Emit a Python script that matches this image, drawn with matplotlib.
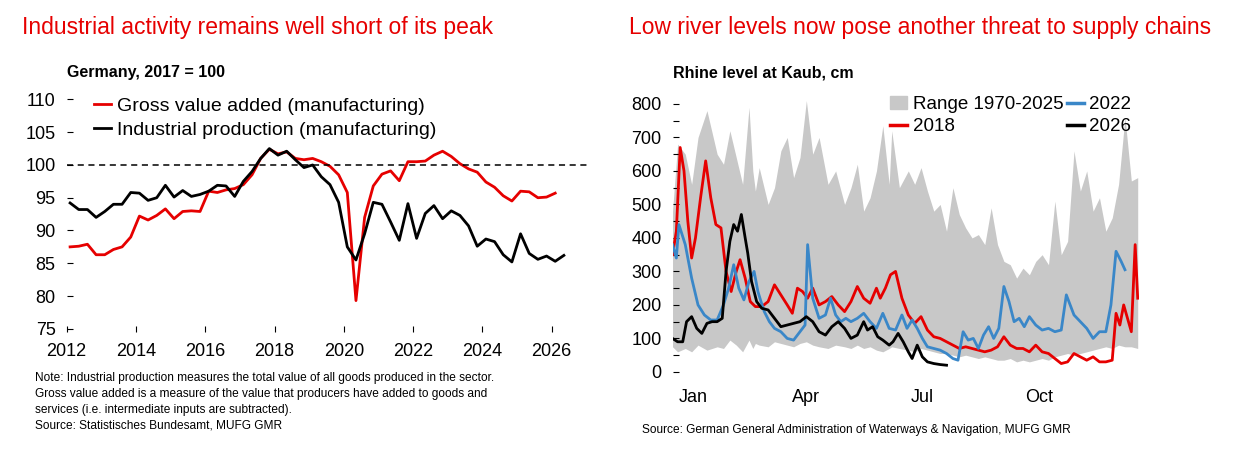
import matplotlib.pyplot as plt
from matplotlib.patches import Patch
from matplotlib.lines import Line2D

# ---- left chart: quarterly, Germany 2017 = 100 ----
gva = [87.5, 87.6, 87.9, 86.3, 86.3, 87.1, 87.5, 89.0, 92.2, 91.6, 92.3, 93.3,
       91.8, 92.9, 93.0, 92.9, 96.0, 95.8, 96.2, 96.4, 97.0, 98.5, 101.0, 102.4,
       101.7, 102.0, 101.0, 100.8, 101.0, 100.5, 99.8, 98.5, 95.8, 79.3, 92.0, 96.8,
       98.6, 99.1, 97.6, 100.5, 100.5, 100.6, 101.5, 102.1, 101.3, 100.2, 99.4, 98.9,
       97.4, 96.6, 95.3, 94.5, 96.0, 95.9, 95.0, 95.1, 95.7]
ip = [94.2, 93.2, 93.2, 92.0, 92.9, 94.0, 94.0, 95.8, 95.7, 94.6, 95.0, 96.9,
      95.1, 96.1, 95.2, 95.5, 96.0, 96.9, 96.8, 95.2, 97.5, 99.0, 101.0, 102.5,
      101.5, 102.1, 100.8, 99.6, 100.0, 98.2, 97.0, 94.3, 87.5, 85.5, 89.5, 94.3,
      94.0, 91.3, 88.5, 94.1, 88.8, 92.6, 93.8, 91.8, 93.0, 92.3, 90.7, 87.6,
      88.7, 88.3, 86.3, 85.2, 89.5, 86.5, 85.6, 86.1, 85.3, 86.2]
START_YEAR = 2012

# ---- right chart: Rhine level at Kaub, cm (day of year, value) ----
range_days = [0, 4, 10, 15, 20, 27, 35, 40, 45, 50, 55, 60, 63, 65, 68, 75, 80, 85, 90, 95,
              100, 105, 110, 115, 122, 128, 135, 140, 145, 150, 155, 160, 165, 170, 172, 178,
              185, 190, 195, 200, 205, 210, 215, 220, 225, 230, 235, 240, 245, 250, 255, 260,
              265, 270, 275, 280, 285, 290, 295, 300, 305, 310, 315, 320, 325, 330, 335, 340,
              345, 350, 355, 360, 365]
range_hi = [480, 680, 650, 560, 700, 780, 650, 620, 720, 640, 560, 790, 600, 540, 610, 500,
            550, 660, 700, 580, 640, 810, 650, 700, 560, 600, 500, 550, 620, 480, 520, 600,
            735, 560, 720, 550, 600, 560, 610, 540, 480, 500, 420, 550, 470, 430, 400, 410,
            380, 490, 380, 330, 320, 280, 310, 290, 330, 350, 320, 510, 350, 390, 660, 540,
            600, 480, 520, 420, 460, 560, 760, 570, 580]
range_lo = [75, 60, 70, 60, 80, 65, 75, 70, 95, 80, 60, 95, 70, 85, 80, 75, 90, 85, 80, 75,
            85, 90, 80, 75, 70, 80, 75, 70, 80, 70, 75, 65, 60, 70, 75, 70, 65, 60, 70, 65,
            60, 55, 55, 50, 45, 50, 45, 40, 45, 40, 35, 35, 40, 30, 35, 30, 35, 40, 35, 45,
            50, 55, 50, 55, 60, 65, 70, 75, 70, 80, 75, 75, 70]

d2018 = [0, 3, 6, 9, 12, 15, 18, 22, 26, 30, 34, 38, 42, 46, 50, 53, 57, 61, 65, 70, 75, 80,
         85, 90, 94, 98, 102, 106, 110, 115, 120, 125, 130, 135, 140, 145, 150, 155, 160, 163,
         167, 171, 175, 180, 185, 190, 195, 200, 205, 210, 215, 220, 225, 230, 235, 240, 245,
         250, 255, 260, 265, 270, 275, 280, 285, 290, 295, 300, 305, 310, 315, 320, 325, 330,
         335, 340, 345, 348, 351, 354, 357, 360, 363, 365]
v2018 = [350, 420, 670, 600, 450, 340, 400, 520, 630, 520, 440, 430, 300, 240, 300, 335, 280,
         210, 195, 195, 210, 260, 230, 200, 175, 250, 240, 220, 250, 200, 210, 225, 200, 180,
         210, 255, 220, 205, 250, 220, 250, 290, 300, 220, 170, 145, 165, 125, 105, 100, 90,
         80, 70, 75, 70, 65, 60, 65, 75, 105, 80, 70, 70, 60, 80, 60, 55, 40, 25, 30, 55, 45,
         35, 45, 30, 30, 35, 175, 140, 200, 160, 120, 380, 220]

d2022 = [0, 3, 5, 10, 15, 20, 25, 30, 35, 40, 44, 48, 52, 56, 60, 64, 67, 69, 72, 76, 80, 85,
         90, 95, 100, 104, 106, 110, 115, 120, 124, 128, 132, 136, 140, 145, 150, 155, 160,
         165, 170, 175, 180, 184, 188, 192, 196, 200, 205, 210, 215, 220, 224, 228, 232, 236,
         240, 244, 248, 252, 256, 260, 264, 268, 272, 276, 280, 285, 290, 295, 300, 305, 309,
         315, 320, 325, 330, 335, 340, 344, 348, 352, 355]
v2022 = [380, 340, 440, 380, 280, 200, 170, 155, 155, 200, 250, 320, 250, 215, 270, 300, 240,
         215, 180, 150, 130, 120, 100, 95, 120, 140, 380, 220, 160, 170, 220, 170, 150, 160,
         150, 160, 175, 150, 130, 175, 130, 125, 170, 130, 155, 130, 100, 75, 70, 65, 55, 40,
         35, 120, 95, 100, 70, 110, 135, 100, 130, 255, 210, 150, 160, 135, 165, 140, 125, 130,
         120, 125, 230, 170, 150, 130, 100, 120, 120, 200, 360, 330, 305]

d2026 = [0, 4, 8, 11, 15, 19, 23, 27, 31, 35, 39, 42, 45, 48, 51, 54, 57, 59, 62, 66, 70, 75,
         80, 85, 90, 95, 100, 105, 110, 115, 120, 125, 130, 135, 140, 145, 150, 153, 157, 161,
         165, 170, 173, 177, 181, 185, 188, 192, 196, 200, 205, 210, 215]
v2026 = [100, 90, 90, 150, 165, 130, 115, 145, 150, 150, 160, 300, 390, 440, 420, 470, 400,
         355, 270, 210, 190, 185, 160, 135, 140, 145, 150, 165, 150, 120, 110, 135, 150, 130,
         100, 110, 150, 125, 135, 105, 95, 80, 90, 115, 90, 60, 40, 80, 45, 30, 25, 22, 20]

RED = "#e60000"
BLUE = "#3a87c8"
GREY = "#c8c8c8"

plt.rcParams["font.family"] = ["Liberation Sans", "DejaVu Sans"]
fig = plt.figure(figsize=(12.34, 4.58), dpi=100)

fig.text(0.018, 0.925, "Industrial activity remains well short of its peak", color=RED, fontsize=16.5)
fig.text(0.51, 0.925, "Low river levels now pose another threat to supply chains", color=RED, fontsize=16.5)

# left
ax1 = fig.add_axes([0.054, 0.275, 0.424, 0.515])
x_q = [START_YEAR + 0.1 + i * 0.25 for i in range(len(ip))]
ax1.plot(x_q[:len(gva)], gva, color=RED, lw=2, label="Gross value added (manufacturing)")
ax1.plot(x_q, ip, color="black", lw=2, label="Industrial production (manufacturing)")
ax1.axhline(100, color="black", lw=1.1, ls=(0, (4, 3)))
ax1.set_xlim(2012, 2027.1)
ax1.set_ylim(74.5, 110.5)
ax1.set_yticks(range(75, 111, 5))
ax1.set_xticks(range(2012, 2027, 2))
for s in ["top", "right", "left", "bottom"]:
    ax1.spines[s].set_visible(False)
ax1.tick_params(axis="y", labelsize=13, length=4, direction="in", pad=8, width=0.8)
ax1.tick_params(axis="x", labelsize=13, length=4, direction="in", width=0.8, pad=8)
ax1.set_title("Germany, 2017 = 100", loc="left", fontsize=11.5, fontweight="bold", x=0.0, pad=14)
ax1.legend(loc="upper left", bbox_to_anchor=(0.03, 1.045), frameon=False, fontsize=14,
           handlelength=0.9, handletextpad=0.3, labelspacing=0.35, borderaxespad=0.2)
fig.text(0.028, 0.065,
         "Note: Industrial production measures the total value of all goods produced in the sector.\n"
         "Gross value added is a measure of the value that producers have added to goods and\n"
         "services (i.e. intermediate inputs are subtracted).\n"
         "Source: Statistisches Bundesamt, MUFG GMR", fontsize=8.6, linespacing=1.4)

# right
ax2 = fig.add_axes([0.545, 0.166, 0.378, 0.629])
ax2.fill_between(range_days, range_lo, range_hi, color=GREY, lw=0)
ax2.plot(d2018, v2018, color=RED, lw=2)
ax2.plot(d2022, v2022, color=BLUE, lw=2)
ax2.plot(d2026, v2026, color="black", lw=2)
ax2.set_xlim(0, 366)
ax2.set_ylim(-30, 830)
ax2.set_yticks(range(0, 801, 100))
ax2.set_yticks(range(50, 801, 100), minor=True)
ax2.set_xticks([16, 105, 196, 288])
ax2.set_xticklabels(["Jan", "Apr", "Jul", "Oct"])
for s in ["top", "right", "left", "bottom"]:
    ax2.spines[s].set_visible(False)
ax2.tick_params(axis="y", which="both", labelsize=13, length=4, direction="in", pad=8, width=0.8)
ax2.tick_params(axis="x", labelsize=13, length=0, pad=5)
ax2.set_title("Rhine level at Kaub, cm", loc="left", fontsize=11.5, fontweight="bold",
              x=0.0, pad=12)
handles = [Patch(color=GREY), Line2D([], [], color=RED, lw=2.5),
           Line2D([], [], color=BLUE, lw=2.5), Line2D([], [], color="black", lw=2.5)]
labels = ["Range 1970-2025", "2018", "2022", "2026"]
ax2.legend(handles, labels, ncol=2, loc="upper right", bbox_to_anchor=(1.02, 1.05),
           frameon=False, fontsize=13.5, handlelength=0.9, handletextpad=0.3,
           labelspacing=0.25, columnspacing=0.2)
fig.text(0.52, 0.055, "Source: German General Administration of Waterways & Navigation, MUFG GMR",
         fontsize=8.6)

fig.savefig("out.png", dpi=100)
